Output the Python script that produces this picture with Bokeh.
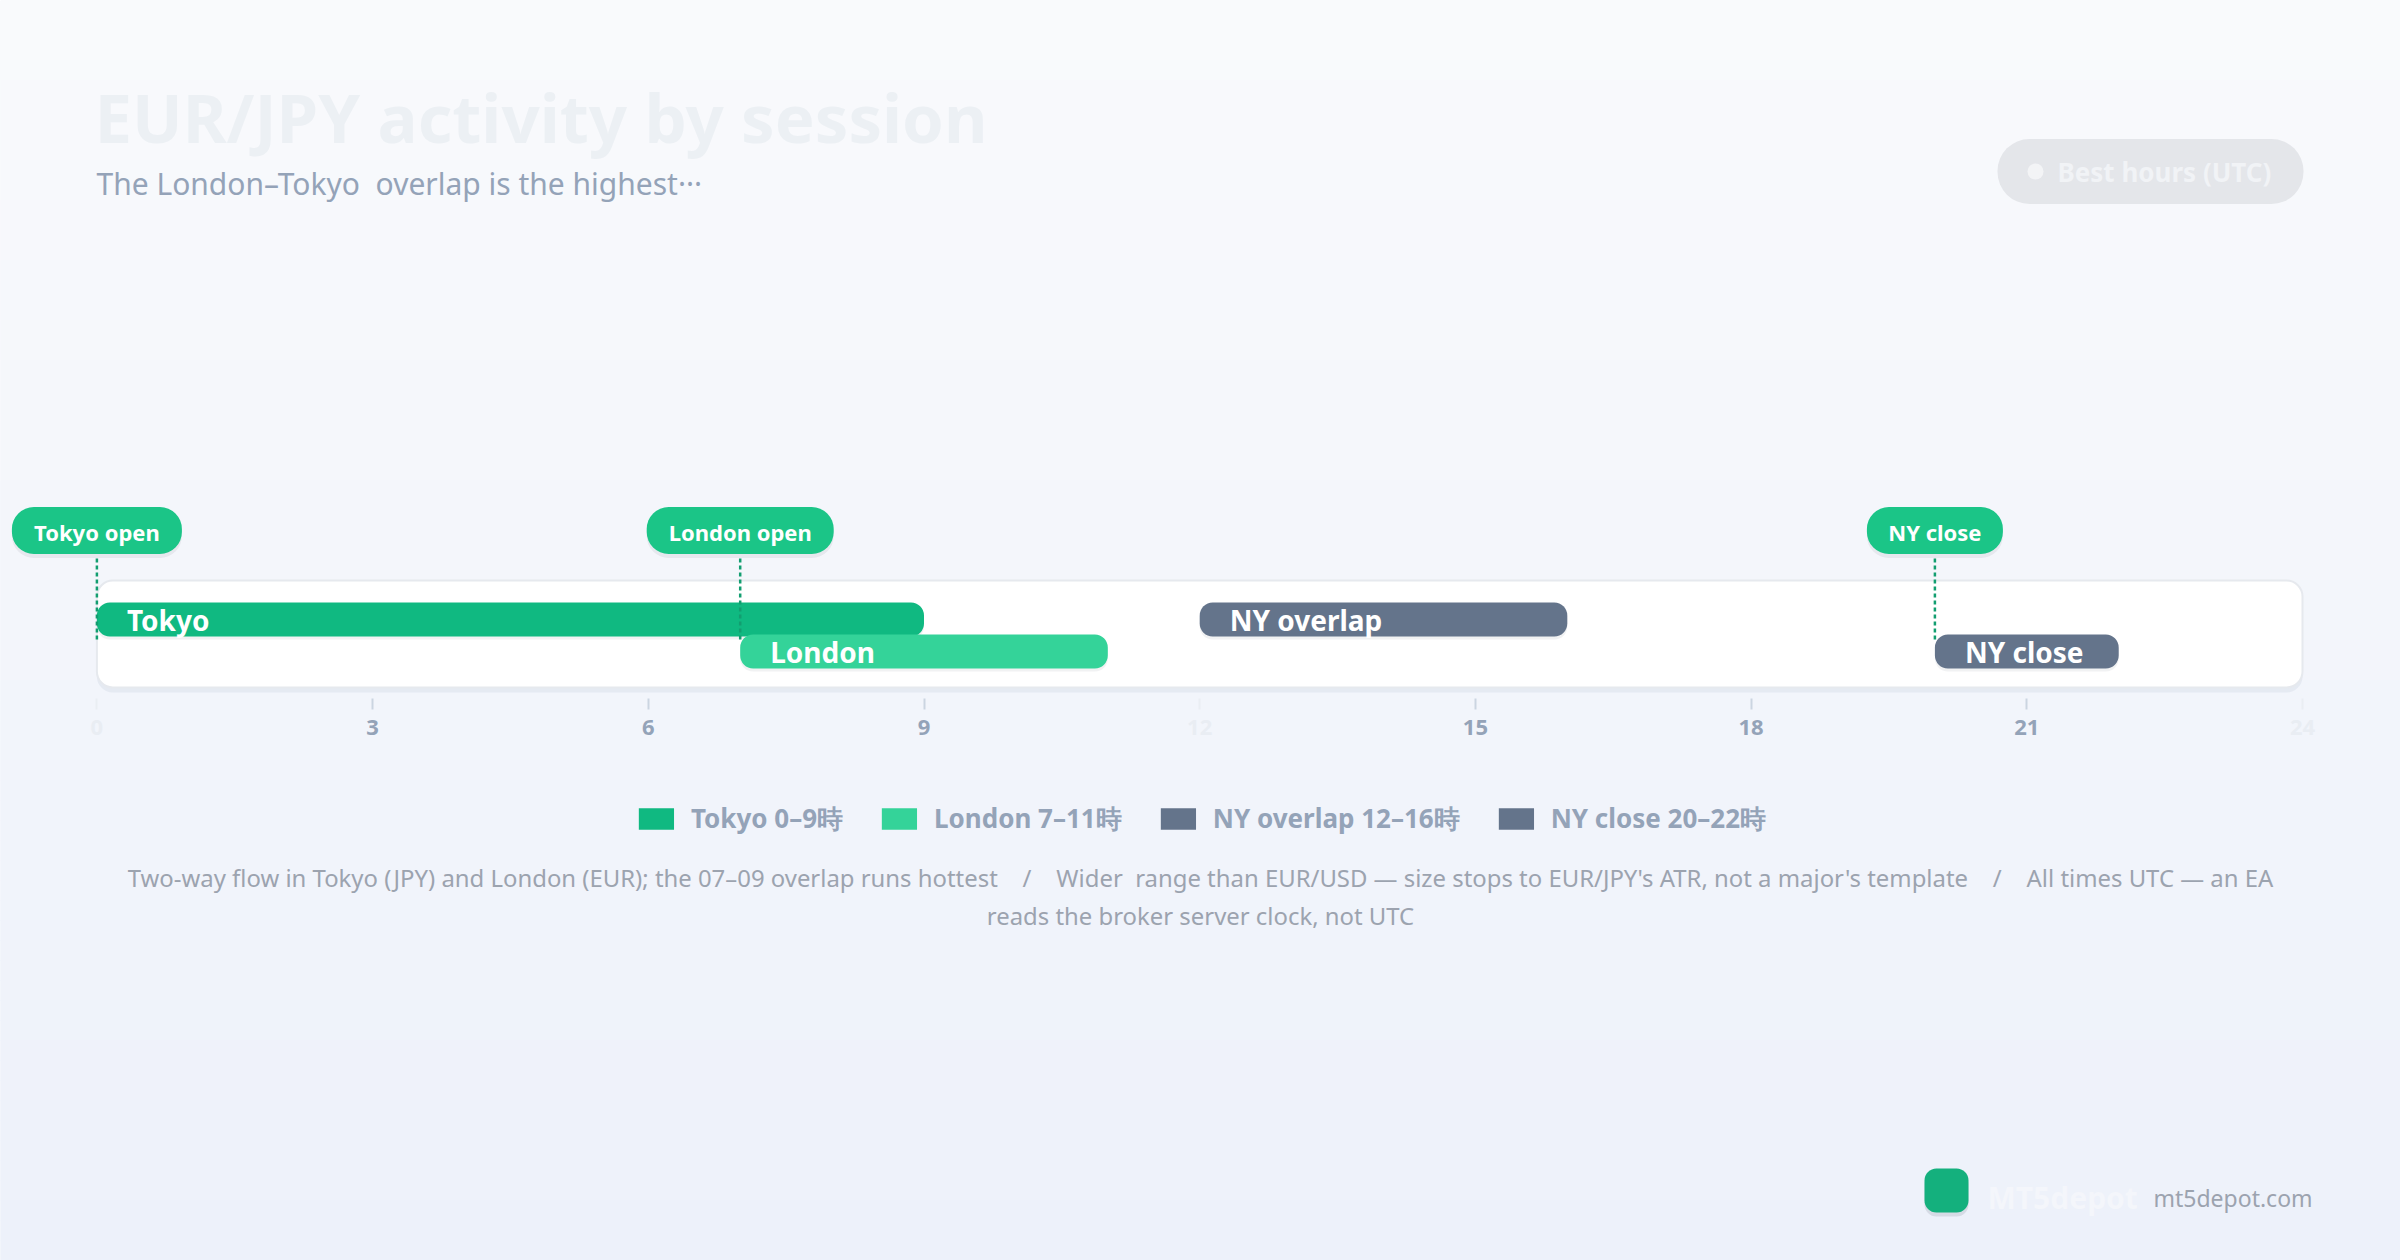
import numpy as np
from bokeh.plotting import figure
from bokeh.models import (Range1d, LinearAxis, FixedTicker, Legend, LegendItem,
                          ColumnDataSource)
from bokeh.core.properties import value
from bokeh.embed import file_html
from bokeh.resources import INLINE

# ---------------- data ----------------
sessions = ["Tokyo", "London", "NY overlap", "NY close"]
starts = [0, 7, 12, 20]
ends = [9, 11, 16, 22]
lanes = [0, 1, 0, 1]
colors = ["#10b981", "#34d399", "#64748b", "#64748b"]
events = ["Tokyo open", "London open", "NY close"]
event_hours = [0, 7, 20]
major_ticks = [3, 6, 9, 15, 18, 21]
faint_ticks = [0, 12, 24]
day_start, day_end = 0, 24

title = "EUR/JPY activity by session"
subtitle = "The London\u2013Tokyo\u00a0 overlap is the highest\u00b7\u00b7\u00b7"
notes = ["Two-way flow in Tokyo (JPY) and London (EUR); the 07\u201309 overlap runs hottest",
         "Wider\u00a0 range than EUR/USD \u2014 size stops to EUR/JPY's ATR, not a major's template",
         "All times UTC \u2014 an EA",
         "reads the broker server clock, not UTC"]

# ---------------- layout ----------------
W, H = 2400, 1260
X0 = 96.4      # px of hour 0
PPH = 91.9     # px per hour
FONT = value("Noto Sans")


def px2h(px):
    return (px - X0) / PPH


p = figure(width=W, height=H, x_range=Range1d(px2h(0), px2h(W)),
           y_range=Range1d(H, 0), output_backend="svg", toolbar_location=None,
           x_axis_type=None, y_axis_type=None, min_border=0)
p.outline_line_color = None
p.background_fill_color = "#f4f6fa"
p.border_fill_color = "#f4f6fa"

# background gradient strips
n = 63
ys = np.linspace(0, H, n + 1)
top_c = np.array([249, 250, 252])
bot_c = np.array([237, 241, 250])
mids = (ys[:-1] + ys[1:]) / 2 / H
cols = ['#%02x%02x%02x' % tuple(np.round(top_c + (bot_c - top_c) * t).astype(int)) for t in mids]
p.quad(left=px2h(0), right=px2h(W), top=ys[:-1], bottom=ys[1:], fill_color=cols,
       line_color=cols, line_width=1)

# title / subtitle
p.text(x=[px2h(94)], y=[116], text=[title], text_font=FONT, text_font_style="bold",
       text_font_size="67px", text_color="#ecf0f4", text_baseline="middle")
p.text(x=[px2h(96)], y=[183], text=[subtitle], text_font=FONT,
       text_font_size="30px", text_color="#94a3b8", text_baseline="middle")

# "Best hours" pill
p.rect(x=[px2h(2150)], y=[171], width=[306], height=[65], width_units="screen",
       height_units="screen", fill_color="#e4e6ea", line_color=None, border_radius=32)
p.scatter(x=[px2h(2035)], y=[171], size=16, fill_color="#f3f4f6", line_color=None)
p.text(x=[px2h(2057)], y=[171], text=["Best hours (UTC)"], text_font=FONT,
       text_font_style="bold", text_font_size="26px", text_color="#f1f3f6",
       text_baseline="middle")

# panel
p.quad(left=day_start, right=day_end, top=583, bottom=692, fill_color="#94a3b8",
       fill_alpha=0.13, line_color=None, border_radius=16)
p.quad(left=day_start, right=day_end, top=580, bottom=687, fill_color="white",
       line_color="#e6e9ee", line_width=2, border_radius=16)

# bars
lane_y = [619 + 32 * l for l in lanes]
labels = [f"{s} {a}\u2013{b}\u6642" for s, a, b in zip(sessions, starts, ends)]
src = ColumnDataSource(dict(name=sessions, start=starts, end=ends, y=lane_y,
                            sy=[v + 3 for v in lane_y], color=colors, label=labels))
p.hbar(y="sy", left="start", right="end", height=34, fill_color="#334155",
       fill_alpha=0.07, line_color=None, border_radius=13, source=src)
bars = p.hbar(y="y", left="start", right="end", height=34, fill_color="color",
              line_color=None, border_radius=13, source=src)
p.text(x="start", y="y", text="name", x_offset=30, text_baseline="middle",
       text_color="white", text_font=FONT, text_font_style="bold",
       text_font_size="28px", source=src)

# event markers
pill_w = [17 * len(e) for e in events]
p.rect(x=event_hours, y=[534] * len(events), width=pill_w, height=47, width_units="screen",
       height_units="screen", fill_color="#0f172a", fill_alpha=0.06, line_color=None,
       border_radius=22)
p.rect(x=event_hours, y=[530] * len(events), width=pill_w, height=47, width_units="screen",
       height_units="screen", fill_color="#1bc587", line_color=None, border_radius=22)
p.text(x=event_hours, y=[531] * len(events), text=events, text_align="center",
       text_baseline="middle", text_color="white", text_font=FONT,
       text_font_style="bold", text_font_size="22px")
p.segment(x0=event_hours, y0=[558] * len(events), x1=event_hours, y1=[642] * len(events),
          line_dash="4 3", line_color="#129e70", line_width=2.5)


# axes
def make_axis(ticks, tick_col, lab_col):
    ax = LinearAxis(ticker=FixedTicker(ticks=ticks), fixed_location=698)
    ax.axis_line_color = None
    ax.major_tick_line_color = tick_col
    ax.major_tick_line_width = 2
    ax.major_tick_out = 11
    ax.major_tick_in = 0
    ax.minor_tick_line_color = None
    ax.major_label_text_font = "Noto Sans"
    ax.major_label_text_font_size = "22px"
    ax.major_label_text_font_style = "bold"
    ax.major_label_text_color = lab_col
    ax.major_label_standoff = 10
    return ax


p.add_layout(make_axis(major_ticks, "#cbd5e1", "#94a3b8"), "below")
p.add_layout(make_axis(faint_ticks, "#eaeef3", "#e9edf3"), "below")

# legend
legend = Legend(items=[LegendItem(label=lab, renderers=[bars], index=i)
                       for i, lab in enumerate(labels)],
                orientation="horizontal", location="bottom_center", margin=423,
                padding=0, spacing=34, label_standoff=13, glyph_width=44,
                glyph_height=27, background_fill_alpha=0, border_line_color=None,
                label_text_font="Noto Sans", label_text_font_size="26px",
                label_text_font_style="bold", label_text_color="#94a3b8")
p.add_layout(legend)

# notes
sep = "\u00a0\u00a0\u00a0\u00a0/\u00a0\u00a0\u00a0\u00a0"
line1 = sep.join(notes[:3])
line2 = notes[3]
p.text(x=[px2h(W / 2)] * 2, y=[877, 915], text=[line1, line2], text_align="center",
       text_baseline="middle", text_font=FONT, text_font_size="23.9px",
       text_color="#9ca3af")

# footer logo
p.rect(x=[px2h(1946)], y=[1194], width=[44], height=[44], width_units="screen",
       height_units="screen", fill_color="#334155", fill_alpha=0.12, line_color=None,
       border_radius=12)
p.rect(x=[px2h(1946)], y=[1190], width=[44], height=[44], width_units="screen",
       height_units="screen", fill_color="#14b07d", line_color=None, border_radius=12)
p.text(x=[px2h(1987)], y=[1197], text=["MT5depot"], text_font=FONT,
       text_font_style="bold", text_font_size="30px", text_color="#f4f6fb",
       text_baseline="middle")
p.text(x=[px2h(2153)], y=[1197], text=["mt5depot.com"], text_font=FONT,
       text_font_size="23px", text_color="#9ca3af", text_baseline="middle")

open("out.html", "w").write(file_html(p, INLINE))
